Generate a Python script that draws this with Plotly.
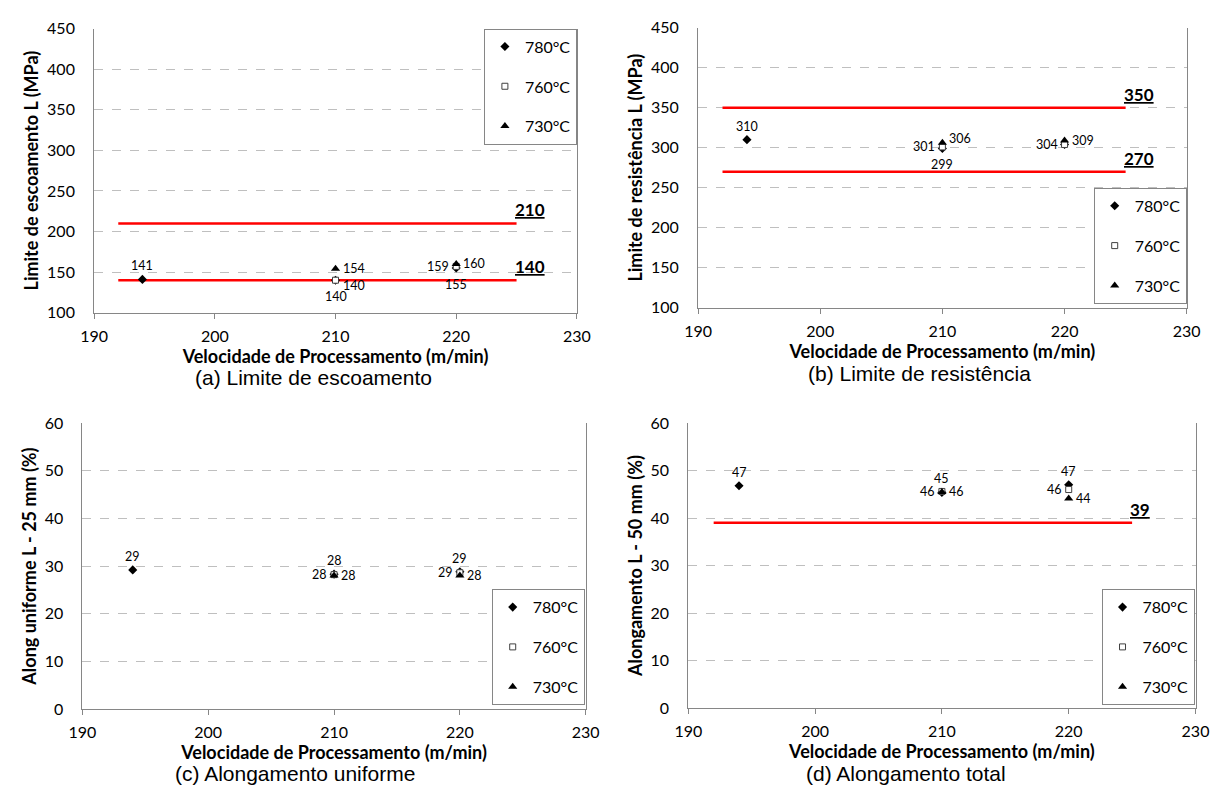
import plotly.graph_objects as go

W, H = 1231, 805

# ---------------- data ----------------
temps = ["780°C", "760°C", "730°C"]
x_tick_vals = [190, 200, 210, 220, 230]

# (a) Limite de escoamento
a_780_x = [194, 210, 220]; a_780_y = [141, 140, 155]; a_780_lbl = ["141", "140", "155"]
a_760_x = [210, 220];      a_760_y = [140, 157];      a_760_lbl = ["140", "159"]
a_730_x = [210, 220];      a_730_y = [154, 160];      a_730_lbl = ["154", "160"]
a_limits = [210, 140]

# (b) Limite de resistência
b_780_x = [194, 210, 220]; b_780_y = [310, 299, 304]; b_780_lbl = ["310", "299", ""]
b_760_x = [210, 220];      b_760_y = [301, 304];      b_760_lbl = ["301", "304"]
b_730_x = [210, 220];      b_730_y = [306, 309];      b_730_lbl = ["306", "309"]
b_limits = [350, 270]

# (c) Alongamento uniforme
c_780_x = [194, 210, 220]; c_780_y = [29.2, 28.3, 28.8]; c_780_lbl = ["29", "28", "29"]
c_760_x = [210, 220];      c_760_y = [28.2, 28.6];       c_760_lbl = ["28", "29"]
c_730_x = [210, 220];      c_730_y = [28.0, 28.0];       c_730_lbl = ["28", "28"]

# (d) Alongamento total
d_780_x = [194, 210, 220]; d_780_y = [46.8, 45.4, 47.0]; d_780_lbl = ["47", "45", "47"]
d_760_x = [210, 220];      d_760_y = [45.6, 46.0];       d_760_lbl = ["46", "46"]
d_730_x = [210, 220];      d_730_y = [45.5, 44.1];       d_730_lbl = ["46", "44"]
d_limits = [39]

limit_x = [192, 225]

y_titles = ["Limite de escoamento L (MPa)", "Limite de resistência L (MPa)",
            "Along uniforme L - 25 mm (%)", "Alongamento L - 50 mm (%)"]
x_title = "Velocidade de Processamento (m/min)"
captions = ["(a) Limite de escoamento", "(b) Limite de resistência",
            "(c) Alongamento uniforme", "(d) Alongamento total"]

# ---------------- layout helpers ----------------
def px_x(p):
    return p / W

def px_y(p):
    return 1 - p / H

# panel boxes in pixels: left, right, top, bottom
boxes = [(82, 576, 19, 310), (700, 1200, 18, 305), (70, 585, 423, 716), (690, 1209, 423, 715)]
y_ranges = [[100, 450], [100, 450], [0, 60], [0, 60]]
y_dticks = [50, 50, 10, 10]

TICKFONT = dict(family="Lato", size=16, color="#000000")
YTITLEFONT = dict(family="Lato", size=18, color="#000000")
XTITLEFONT = dict(family="Lato", size=18, color="#000000")
AXCOL = "#868686"
GRIDCOL = "#BFBFBF"

fig = go.Figure()

marker_styles = {
    "780°C": dict(symbol="diamond", size=7, color="#000000", line=dict(color="#000000", width=0)),
    "760°C": dict(symbol="square", size=6, color="#FFFFFF", line=dict(color="#404040", width=1)),
    "730°C": dict(symbol="triangle-up", size=8, color="#000000", line=dict(color="#000000", width=0)),
}

# label placement codes -> annotation anchor/shift
pos_style = {
    "t":  dict(xanchor="center", yanchor="bottom", xshift=0, yshift=5),
    "b":  dict(xanchor="center", yanchor="top", xshift=0, yshift=-8),
    "l":  dict(xanchor="right", yanchor="middle", xshift=-6, yshift=0),
    "r":  dict(xanchor="left", yanchor="middle", xshift=6, yshift=0),
    "tr": dict(xanchor="left", yanchor="middle", xshift=6, yshift=4),
    "br": dict(xanchor="left", yanchor="middle", xshift=6, yshift=-5),
}

panels = [
    [(a_780_x, a_780_y, a_780_lbl, ["t", "b", "b"]), (a_760_x, a_760_y, a_760_lbl, ["br", "l"]), (a_730_x, a_730_y, a_730_lbl, ["r", "r"])],
    [(b_780_x, b_780_y, b_780_lbl, ["t", "b", "l"]), (b_760_x, b_760_y, b_760_lbl, ["l", "l"]), (b_730_x, b_730_y, b_730_lbl, ["tr", "r"])],
    [(c_780_x, c_780_y, c_780_lbl, ["t", "t", "t"]), (c_760_x, c_760_y, c_760_lbl, ["l", "l"]), (c_730_x, c_730_y, c_730_lbl, ["r", "r"])],
    [(d_780_x, d_780_y, d_780_lbl, ["t", "t", "t"]), (d_760_x, d_760_y, d_760_lbl, ["l", "l"]), (d_730_x, d_730_y, d_730_lbl, ["r", "r"])],
]
limits = [a_limits, b_limits, [], d_limits]

legend_names = ["legend", "legend2", "legend3", "legend4"]
annotations = []

for i in range(4):
    sfx = "" if i == 0 else str(i + 1)
    xa, ya = "x" + sfx, "y" + sfx
    for lv in limits[i]:
        fig.add_trace(go.Scatter(x=limit_x, y=[lv, lv], mode="lines",
                                 line=dict(color="#FF0000", width=2.5),
                                 xaxis=xa, yaxis=ya, showlegend=False, hoverinfo="skip"))
        annotations.append(dict(
            x=limit_x[1], y=lv, xref=xa, yref=ya,
            text="<b><u>" + str(lv) + "</u></b>", showarrow=False,
            xanchor="left", yanchor="bottom", xshift=-4, yshift=1,
            font=dict(family="Lato", size=17, color="#000000")))
    for (xs, ys, lbls, poss), t in zip(panels[i], temps):
        fig.add_trace(go.Scatter(
            x=xs, y=ys, mode="markers", name=t,
            marker=marker_styles[t], xaxis=xa, yaxis=ya,
            legend=legend_names[i], legendgroup=f"p{i}{t}"))
        for xv, yv, lb, p in zip(xs, ys, lbls, poss):
            if not lb:
                continue
            annotations.append(dict(
                x=xv, y=yv, xref=xa, yref=ya, text=lb, showarrow=False,
                font=dict(family="Lato", size=12.5, color="#000000"),
                borderpad=0, **pos_style[p]))

layout = dict(
    width=W, height=H, margin=dict(l=0, r=0, t=0, b=0),
    paper_bgcolor="white", plot_bgcolor="white",
    font=dict(family="Lato", color="#000000"),
    showlegend=True,
)

legend_pos = [
    dict(x=px_x(576), y=px_y(19), xanchor="right", yanchor="top"),
    dict(x=px_x(1200), y=px_y(301), xanchor="right", yanchor="bottom"),
    dict(x=px_x(584), y=px_y(712), xanchor="right", yanchor="bottom"),
    dict(x=px_x(1208), y=px_y(712), xanchor="right", yanchor="bottom"),
]

for i in range(4):
    l, r, t, b = boxes[i]
    sfx = "" if i == 0 else str(i + 1)
    layout["xaxis" + sfx] = dict(
        domain=[px_x(l), px_x(r)], anchor="y" + sfx, range=[190, 230],
        tickvals=x_tick_vals, ticks="outside", ticklen=5, tickcolor=AXCOL,
        showline=True, linecolor=AXCOL, linewidth=1, mirror=False,
        showgrid=False, zeroline=False, tickfont=TICKFONT, ticklabelstandoff=4,
        title=dict(text="<b>" + x_title + "</b>", font=XTITLEFONT, standoff=0),
    )
    layout["yaxis" + sfx] = dict(
        domain=[px_y(b), px_y(t)], anchor="x" + sfx, range=y_ranges[i],
        dtick=y_dticks[i], tick0=0, ticks="",
        showline=True, linecolor=AXCOL, linewidth=1, mirror=True,
        showgrid=True, gridcolor=GRIDCOL, griddash="dash", gridwidth=1,
        zeroline=False, tickfont=TICKFONT, ticklabelstandoff=15,
        title=dict(text="<b>" + y_titles[i] + "</b>", font=YTITLEFONT, standoff=3),
    )
    layout[legend_names[i]] = dict(
        **legend_pos[i], bgcolor="white", bordercolor=AXCOL, borderwidth=1,
        font=dict(family="Lato", size=16, color="#000000"),
        tracegroupgap=16, itemwidth=30, traceorder="grouped",
    )

fig.update_layout(**layout)

# captions below each chart
cap_pos = [(306, 376), (927, 372), (288, 782), (913, 782)]
for i in range(4):
    annotations.append(dict(
        x=px_x(cap_pos[i][0]), y=px_y(cap_pos[i][1]), xref="paper", yref="paper",
        text=captions[i], showarrow=False, xanchor="center", yanchor="middle",
        borderpad=0,
        font=dict(family="Liberation Sans", size=21, color="#000000")))

fig.update_layout(annotations=annotations)

fig.write_html("out.html")
